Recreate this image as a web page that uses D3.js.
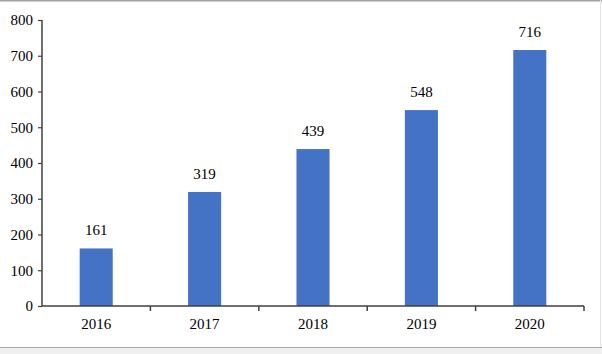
<!DOCTYPE html>
<html>
<head>
<meta charset="utf-8">
<script src="https://cdn.jsdelivr.net/npm/d3@7"></script>
<style>
html,body{margin:0;padding:0;background:#fff;}
svg{display:block;}
</style>
</head>
<body>
<svg id="chart" width="602" height="354"></svg>
<script>
const categories = ["2016","2017","2018","2019","2020"];
const values = [161, 319, 439, 548, 716];
const yTicks = [0,100,200,300,400,500,600,700,800];

(function(){
const svg = d3.select("#chart");
const W = 602, H = 354;
const mLeft = 42, mRight = 584, mTop = 20, mBottom = 306;
const font = "'Liberation Serif','Times New Roman',serif";
const fs = 15;

// frame
svg.append("rect").attr("x",0).attr("y",0).attr("width",W).attr("height",H).attr("fill","#fff");
svg.append("rect").attr("x",0).attr("y",347).attr("width",W).attr("height",7).attr("fill","#f0f0f0");
svg.append("line").attr("x1",0).attr("x2",W).attr("y1",0.75).attr("y2",0.75).attr("stroke","#a0a0a0").attr("stroke-width",1.5);
svg.append("line").attr("x1",0).attr("x2",W).attr("y1",347.5).attr("y2",347.5).attr("stroke","#a8a8a8").attr("stroke-width",1);
svg.append("line").attr("x1",600.5).attr("x2",600.5).attr("y1",0).attr("y2",347).attr("stroke","#e4e4e4").attr("stroke-width",1);

const x = d3.scaleBand().domain(categories).range([mLeft, mRight]).paddingInner(0).paddingOuter(0);
const y = d3.scaleLinear().domain([0, 800]).range([mBottom, mTop]);

const barW = x.bandwidth() * 0.305;

svg.append("g").selectAll("rect").data(values).join("rect")
  .attr("x", (d,i) => x(categories[i]) + x.bandwidth()/2 - barW/2)
  .attr("y", d => y(d))
  .attr("width", barW)
  .attr("height", d => y(0) - y(d))
  .attr("fill", "#4472C4");

svg.append("g").selectAll("text").data(values).join("text")
  .attr("x", (d,i) => x(categories[i]) + x.bandwidth()/2)
  .attr("y", d => y(d) - 13)
  .attr("text-anchor","middle")
  .attr("font-family", font)
  .attr("font-size", fs)
  .attr("fill","#000")
  .text(d => d);

// y axis
const yAxis = svg.append("g").attr("transform", `translate(${mLeft},0)`)
  .call(d3.axisLeft(y).tickValues(yTicks).tickSize(4).tickPadding(5).tickFormat(d3.format("d")));
yAxis.select(".domain").attr("stroke","#404040").attr("stroke-width",1.5).attr("d", `M0,${mTop}V${mBottom}`);
yAxis.selectAll(".tick line").attr("stroke","#404040").attr("stroke-width",1.2);
yAxis.selectAll("text").attr("font-family",font).attr("font-size",fs).attr("fill","#000");

// x axis
const xAxis = svg.append("g").attr("transform", `translate(0,${mBottom})`)
  .call(d3.axisBottom(x).tickSize(0).tickPadding(12));
xAxis.select(".domain").attr("stroke","#404040").attr("stroke-width",1.5).attr("d", `M${mLeft},0H${mRight}`);
xAxis.selectAll("text").attr("font-family",font).attr("font-size",fs).attr("fill","#000");
// boundary ticks
const bounds = categories.map(c => x(c)).concat([mRight]).slice(1);
svg.append("g").selectAll("line").data(bounds).join("line")
  .attr("x1", d => d).attr("x2", d => d)
  .attr("y1", mBottom).attr("y2", mBottom + 5)
  .attr("stroke","#404040").attr("stroke-width",1.5);
})();
</script>
</body>
</html>
